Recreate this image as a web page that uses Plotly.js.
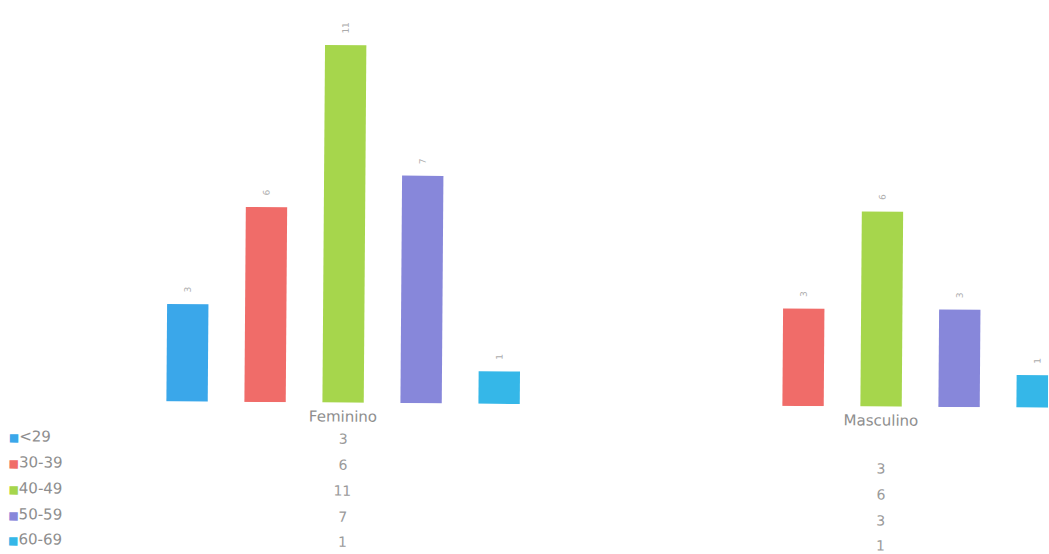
<!DOCTYPE html>
<html>
<head>
<meta charset="utf-8">
<script src="https://cdn.plot.ly/plotly-3.0.1.min.js"></script>
<style>
  html, body { margin: 0; padding: 0; background: #ffffff; overflow: hidden; }
  #chart { width: 1049px; height: 554px; transform: rotate(0.42deg); transform-origin: 50% 50%; }
</style>
</head>
<body>
<div id="chart"></div>
<script>
// Respondents by sex and age band
const groups = ['Feminino', 'Masculino'];
const ageBands = ['<29', '30-39', '40-49', '50-59', '60-69'];
const feminino = [3, 6, 11, 7, 1];
const masculino = [null, 3, 6, 3, 1];

const bandColors = ['#3aa7ea', '#f06c69', '#a6d64c', '#8787da', '#35b7e8'];
const textGrey = '#8e8e8e';
const fontFamily = 'DejaVu Sans, Arial, sans-serif';

// one bar trace per age band, grouped by sex
const traces = ageBands.map((band, i) => {
  const vals = [feminino[i], masculino[i]];
  return {
    type: 'bar',
    name: band,
    x: groups,
    y: vals,
    marker: { color: bandColors[i] },
    text: vals.map(v => (v === null ? '' : String(v))),
    texttemplate: '\u00a0\u00a0\u00a0%{text}',
    textposition: 'outside',
    textangle: -90,
    constraintext: 'none',
    cliponaxis: false,
    textfont: { family: fontFamily, size: 9, color: '#ababab' },
    hoverinfo: 'x+y+name',
    showlegend: false
  };
});

// data table under the axis: legend key on the left, one value column per group
const plotTop = 20, plotBottom = 404;
const rowPx = [439.5, 465.5, 491.5, 517.5, 543];
const toPaper = px => (plotBottom - px) / (plotBottom - plotTop);

const annotations = [];
ageBands.forEach((band, i) => {
  const label = band.replace('<', '&lt;');
  annotations.push({
    xref: 'paper', yref: 'paper',
    x: 9 / 1049, y: toPaper(rowPx[i]),
    xanchor: 'left', yanchor: 'middle',
    showarrow: false,
    borderpad: 0,
    text: '<span style="color:' + bandColors[i] + ';font-size:11px">\u25A0</span>' + label,
    font: { family: fontFamily, size: 15, color: textGrey }
  });
  [feminino, masculino].forEach((series, g) => {
    if (series[i] === null) return;
    annotations.push({
      xref: 'x', yref: 'paper',
      x: groups[g], y: toPaper(rowPx[i]),
      xanchor: 'center', yanchor: 'middle',
      showarrow: false,
      borderpad: 0,
      text: String(series[i]),
      font: { family: fontFamily, size: 14, color: '#9a9a9a' }
    });
  });
});

const layout = {
  width: 1049,
  height: 554,
  margin: { l: 0, r: 0, t: plotTop, b: 554 - plotBottom, pad: 0 },
  paper_bgcolor: '#ffffff',
  plot_bgcolor: '#ffffff',
  barmode: 'group',
  bargap: 0.275,
  bargroupgap: 0.47,
  showlegend: false,
  xaxis: {
    type: 'category',
    range: [-344 / 538, 705 / 538],
    showgrid: false,
    zeroline: false,
    showline: false,
    ticks: '',
    ticklabelstandoff: 3,
    tickfont: { family: fontFamily, size: 15, color: textGrey },
    fixedrange: true
  },
  yaxis: {
    range: [0, (plotBottom - plotTop) / 32.5],
    visible: false,
    showgrid: false,
    zeroline: false,
    fixedrange: true
  },
  annotations: annotations,
  font: { family: fontFamily, color: textGrey }
};

Plotly.newPlot('chart', traces, layout, { displayModeBar: false, staticPlot: true });
</script>
</body>
</html>
